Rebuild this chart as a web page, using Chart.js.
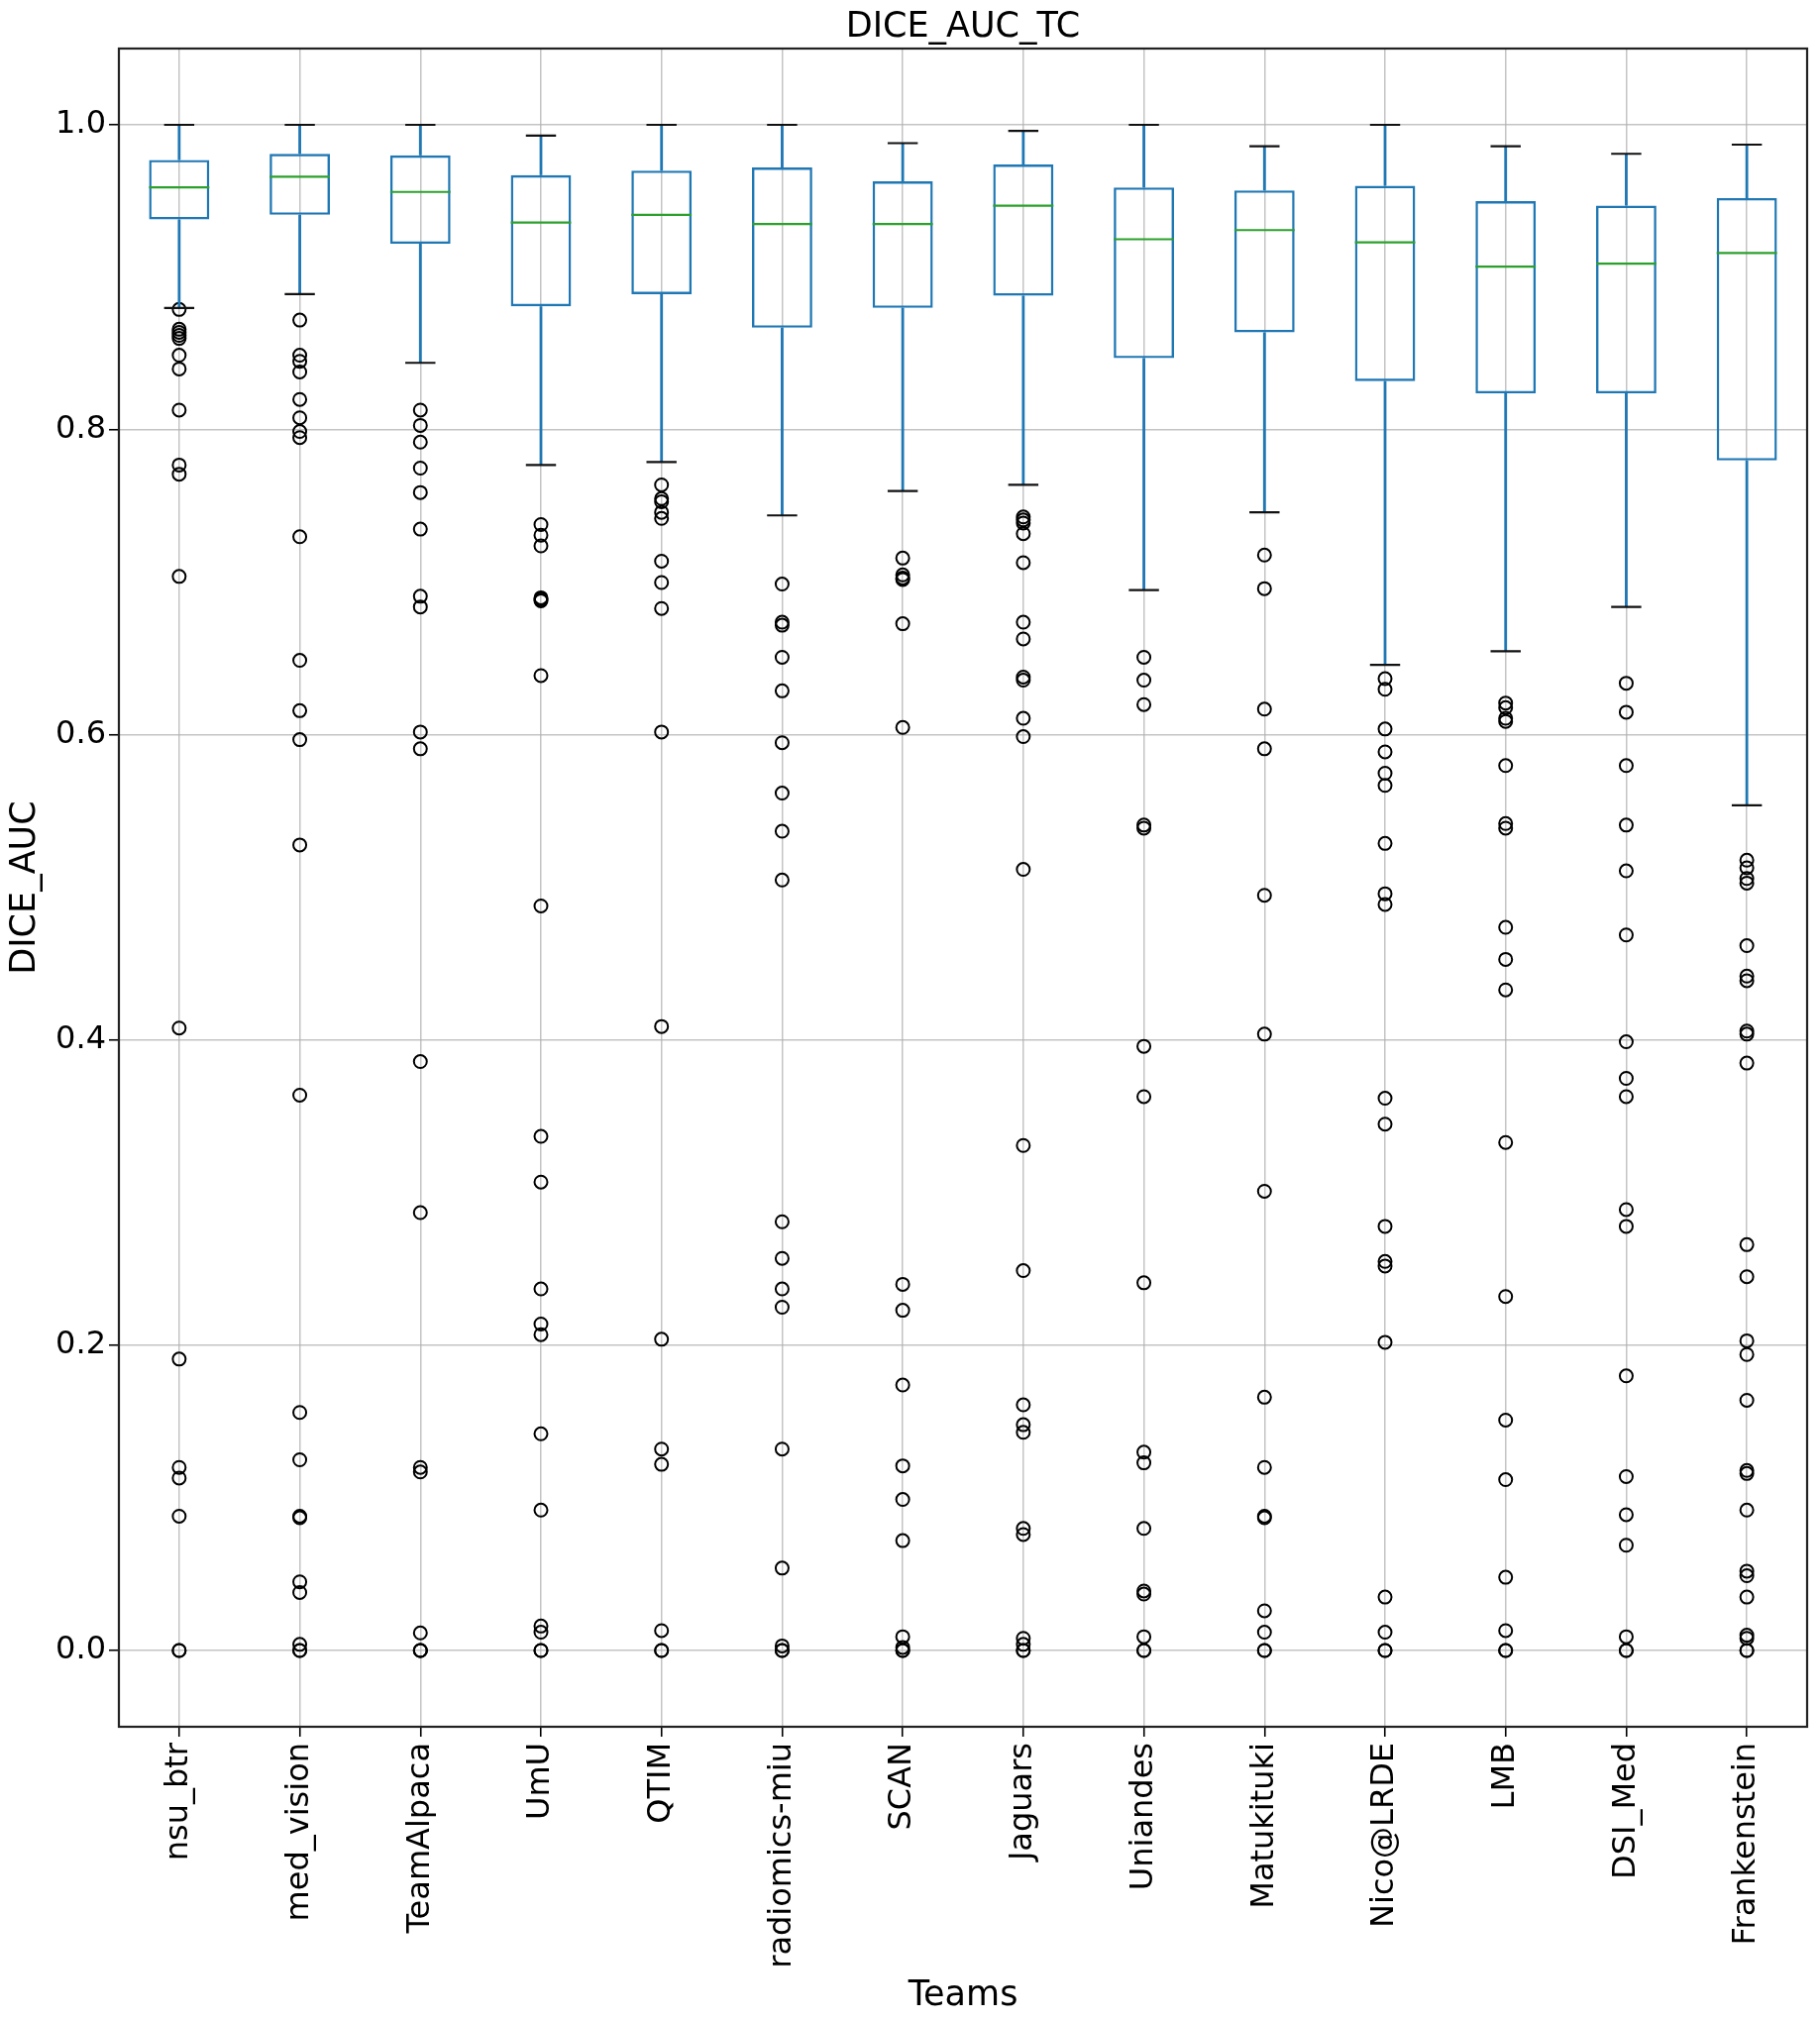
<!DOCTYPE html>
<html>
<head>
<meta charset="utf-8">
<script src="https://cdn.jsdelivr.net/npm/chart.js@4/dist/chart.umd.min.js"></script>
<style>
  html, body { margin: 0; padding: 0; background: #fff; }
  canvas { display: block; }
</style>
</head>
<body>
<canvas id="myChart" width="1837" height="2040"></canvas>
<script>
var teams = ['nsu_btr', 'med_vision', 'TeamAlpaca', 'UmU', 'QTIM', 'radiomics-miu', 'SCAN',
             'Jaguars', 'Uniandes', 'Matukituki', 'Nico@LRDE', 'LMB', 'DSI_Med', 'Frankenstein'];

var whiskerHigh = [1.0, 1.0, 1.0, 0.993, 1.0, 1.0, 0.988, 0.996, 1.0, 0.986, 1.0, 0.986, 0.981, 0.987];
var q3          = [0.977, 0.981, 0.980, 0.967, 0.970, 0.972, 0.963, 0.974, 0.959, 0.957, 0.960, 0.950, 0.947, 0.952];
var median      = [0.959, 0.966, 0.956, 0.936, 0.941, 0.935, 0.935, 0.947, 0.925, 0.931, 0.923, 0.907, 0.909, 0.916];
var q1          = [0.938, 0.941, 0.922, 0.881, 0.889, 0.867, 0.880, 0.888, 0.847, 0.864, 0.832, 0.824, 0.824, 0.780];
var whiskerLow  = [0.880, 0.889, 0.844, 0.777, 0.779, 0.744, 0.760, 0.764, 0.695, 0.746, 0.646, 0.655, 0.684, 0.554];

// fliers, one list per team (same order as teams)
var outliers = [
  [0.879, 0.866, 0.864, 0.862, 0.860, 0.849, 0.840, 0.813, 0.777, 0.771, 0.704, 0.408, 0.191, 0.120, 0.113, 0.088, 0, 0],
  [0.872, 0.849, 0.845, 0.838, 0.820, 0.808, 0.799, 0.795, 0.730, 0.649, 0.616, 0.597, 0.528, 0.364, 0.156, 0.125, 0.088, 0.087, 0.045, 0.038, 0.004, 0, 0],
  [0.813, 0.803, 0.792, 0.775, 0.759, 0.735, 0.691, 0.684, 0.602, 0.591, 0.386, 0.287, 0.120, 0.117, 0.0115, 0, 0, 0],
  [0.738, 0.731, 0.724, 0.690, 0.689, 0.688, 0.639, 0.488, 0.337, 0.307, 0.237, 0.214, 0.207, 0.142, 0.092, 0.016, 0.012, 0, 0],
  [0.764, 0.755, 0.753, 0.746, 0.742, 0.714, 0.700, 0.683, 0.602, 0.409, 0.204, 0.132, 0.122, 0.013, 0, 0],
  [0.699, 0.674, 0.672, 0.651, 0.629, 0.595, 0.562, 0.537, 0.505, 0.281, 0.257, 0.237, 0.225, 0.132, 0.054, 0.003, 0, 0],
  [0.716, 0.705, 0.703, 0.702, 0.673, 0.605, 0.240, 0.223, 0.174, 0.121, 0.099, 0.072, 0.009, 0.002, 0, 0],
  [0.743, 0.741, 0.739, 0.732, 0.713, 0.674, 0.663, 0.638, 0.636, 0.611, 0.599, 0.512, 0.331, 0.249, 0.161, 0.148, 0.143, 0.080, 0.076, 0.008, 0.004, 0, 0],
  [0.651, 0.636, 0.620, 0.541, 0.539, 0.396, 0.363, 0.241, 0.130, 0.123, 0.080, 0.039, 0.037, 0.009, 0, 0],
  [0.718, 0.696, 0.617, 0.591, 0.495, 0.404, 0.301, 0.166, 0.120, 0.088, 0.087, 0.026, 0.012, 0, 0],
  [0.637, 0.630, 0.604, 0.589, 0.575, 0.567, 0.529, 0.496, 0.489, 0.362, 0.345, 0.278, 0.255, 0.252, 0.202, 0.035, 0.012, 0, 0],
  [0.621, 0.618, 0.611, 0.609, 0.580, 0.542, 0.539, 0.474, 0.453, 0.433, 0.333, 0.232, 0.151, 0.112, 0.048, 0.013, 0, 0],
  [0.634, 0.615, 0.580, 0.541, 0.511, 0.469, 0.399, 0.375, 0.363, 0.289, 0.278, 0.180, 0.114, 0.089, 0.069, 0.009, 0, 0],
  [0.518, 0.513, 0.506, 0.503, 0.462, 0.442, 0.439, 0.406, 0.404, 0.385, 0.266, 0.245, 0.203, 0.194, 0.164, 0.118, 0.116, 0.092, 0.052, 0.049, 0.035, 0.010, 0.008, 0, 0]
];

var yTicks = [0.0, 0.2, 0.4, 0.6, 0.8, 1.0];

Chart.defaults.font.family = "'DejaVu Sans', sans-serif";
Chart.defaults.color = '#000';

var boxData = teams.map(function(t, i) { return [q1[i], q3[i]]; });
var flierData = [];
teams.forEach(function(t, i) {
  outliers[i].forEach(function(v) { flierData.push({ x: t, y: v }); });
});

// whiskers, caps and medians, placed through the chart scales
var boxParts = {
  id: 'boxParts',
  afterDatasetsDraw: function(chart) {
    var ctx = chart.ctx, xs = chart.scales.x, ys = chart.scales.y;
    var step = xs.getPixelForValue(1) - xs.getPixelForValue(0);
    var half = step * 0.25, capHalf = step * 0.125;
    ctx.save();
    teams.forEach(function(t, i) {
      var cx = xs.getPixelForValue(i);
      ctx.strokeStyle = '#1f77b4';
      ctx.lineWidth = 2.8;
      ctx.beginPath();
      ctx.moveTo(cx, ys.getPixelForValue(q3[i]));
      ctx.lineTo(cx, ys.getPixelForValue(whiskerHigh[i]));
      ctx.moveTo(cx, ys.getPixelForValue(q1[i]));
      ctx.lineTo(cx, ys.getPixelForValue(whiskerLow[i]));
      ctx.stroke();

      ctx.strokeStyle = '#111';
      ctx.lineWidth = 2.2;
      ctx.beginPath();
      [whiskerHigh[i], whiskerLow[i]].forEach(function(v) {
        var py = ys.getPixelForValue(v);
        ctx.moveTo(cx - capHalf, py);
        ctx.lineTo(cx + capHalf, py);
      });
      ctx.stroke();

      ctx.strokeStyle = '#2ca02c';
      ctx.lineWidth = 2.2;
      ctx.beginPath();
      var my = ys.getPixelForValue(median[i]);
      ctx.moveTo(cx - half, my);
      ctx.lineTo(cx + half, my);
      ctx.stroke();
    });
    ctx.restore();
  },
  afterDraw: function(chart) {
    var a = chart.chartArea, ctx = chart.ctx;
    ctx.save();
    ctx.strokeStyle = '#222';
    ctx.lineWidth = 2.2;
    ctx.strokeRect(a.left, a.top, a.right - a.left, a.bottom - a.top);
    ctx.restore();
  }
};

var ctx = document.getElementById('myChart').getContext('2d');
var myChart = new Chart(ctx, {
  type: 'bar',
  data: {
    labels: teams,
    datasets: [{
      type: 'line',
      data: flierData,
      showLine: false,
      pointStyle: 'circle',
      pointRadius: 6.5,
      pointBorderWidth: 2,
      pointBorderColor: '#000',
      pointBackgroundColor: 'rgba(0,0,0,0)'
    }, {
      type: 'bar',
      data: boxData,
      backgroundColor: 'rgba(0,0,0,0)',
      borderColor: '#1f77b4',
      borderWidth: 2.4,
      borderSkipped: false,
      barPercentage: 0.5,
      categoryPercentage: 1.0
    }]
  },
  plugins: [boxParts],
  options: {
    responsive: false,
    animation: false,
    devicePixelRatio: 1,
    layout: { padding: { left: 0, right: 13, top: 0, bottom: 0 } },
    plugins: {
      legend: { display: false },
      tooltip: { enabled: false },
      title: {
        display: true,
        fullSize: false,
        text: 'DICE_AUC_TC',
        color: '#000',
        font: { size: 35, weight: 'normal' },
        padding: { top: 7, bottom: 0 }
      }
    },
    scales: {
      x: {
        offset: true,
        grid: {
          offset: false,
          color: 'rgba(176,176,176,0.75)',
          lineWidth: 1.5,
          tickColor: '#000',
          tickWidth: 1.6,
          tickLength: 10
        },
        border: { display: false },
        ticks: {
          autoSkip: false,
          maxRotation: 90,
          minRotation: 90,
          padding: 6,
          color: '#000',
          font: { size: 32 }
        },
        title: {
          display: true,
          text: 'Teams',
          color: '#000',
          font: { size: 35 },
          padding: { top: 0, bottom: 4 }
        },
        afterFit: function(scale) { scale.height = 297; }
      },
      y: {
        min: -0.05,
        max: 1.05,
        grid: {
          color: 'rgba(176,176,176,0.75)',
          lineWidth: 1.5,
          tickColor: '#000',
          tickWidth: 1.6,
          tickLength: 10
        },
        border: { display: false },
        afterBuildTicks: function(scale) {
          scale.ticks = yTicks.map(function(v) { return { value: v }; });
        },
        ticks: {
          padding: 3,
          color: '#000',
          font: { size: 32 },
          callback: function(v) { return Number(v).toFixed(1); }
        },
        title: {
          display: true,
          text: 'DICE_AUC',
          color: '#000',
          font: { size: 35 },
          padding: { top: 5, bottom: 0 }
        },
        afterFit: function(scale) { scale.width = 120; }
      }
    }
  }
});
</script>
</body>
</html>
